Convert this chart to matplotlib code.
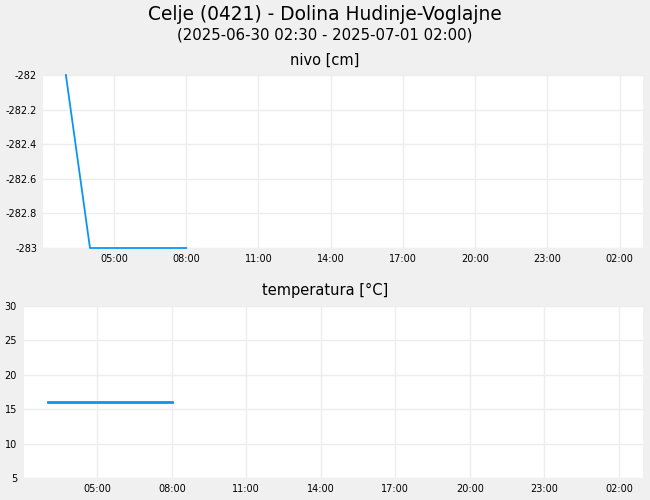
import numpy as np
import pandas as pd
import matplotlib
matplotlib.use("Agg")
import matplotlib.pyplot as plt
import matplotlib.dates as mdates
from matplotlib.ticker import FuncFormatter

# podatki
nivo_cas = pd.to_datetime(["2025-06-30 03:00", "2025-06-30 04:00", "2025-06-30 05:00",
                           "2025-06-30 06:00", "2025-06-30 07:00", "2025-06-30 08:00"])
nivo_val = [-282.0, -283.0, -283.0, -283.0, -283.0, -283.0]

temp_cas = pd.to_datetime(["2025-06-30 03:00", "2025-06-30 04:00", "2025-06-30 05:00",
                           "2025-06-30 06:00", "2025-06-30 07:00", "2025-06-30 08:00"])
temp_val = [16.1, 16.1, 16.1, 16.1, 16.1, 16.1]

x_od = pd.Timestamp("2025-06-30 02:03")
x_do = pd.Timestamp("2025-07-01 02:58")

bg = '#f0f0f0'
modra = '#0a96f0'
mreza = '#ededed'

fig = plt.figure(figsize=(6.5, 5), dpi=100, facecolor=bg)
fig.text(0.5, 0.972, 'Celje (0421) - Dolina Hudinje-Voglajne', ha='center', va='center', fontsize=13.4)
fig.text(0.5, 0.930, '(2025-06-30 02:30 - 2025-07-01 02:00)', ha='center', va='center', fontsize=10.7)
fig.text(0.5, 0.880, 'nivo [cm]', ha='center', va='center', fontsize=10.5)
fig.text(0.5, 0.420, 'temperatura [°C]', ha='center', va='center', fontsize=10.5)

ax1 = fig.add_axes([0.0662, 0.504, 0.9228, 0.346])
ax2 = fig.add_axes([0.0369, 0.044, 0.9521, 0.344])


def oblika(ax):
    ax.set_facecolor('white')
    for s in ax.spines.values():
        s.set_visible(False)
    ax.grid(True, color=mreza, linewidth=1)
    ax.set_axisbelow(True)
    ax.tick_params(length=0, labelsize=7)
    ax.tick_params(axis='x', pad=4)
    ax.xaxis.set_major_locator(mdates.HourLocator(byhour=range(2, 24, 3)))
    ax.xaxis.set_major_formatter(mdates.DateFormatter('%H:%M'))
    ax.set_xlim(x_od, x_do)


oblika(ax1)
ax1.plot(nivo_cas, nivo_val, color=modra, linewidth=1.3, clip_on=False)
ax1.set_ylim(-283, -282)
ax1.set_yticks(np.arange(-283, -281.99, 0.2))
ax1.yaxis.set_major_formatter(FuncFormatter(lambda v, p: f'{v:g}'))
ax1.tick_params(axis='y', pad=4.3)

oblika(ax2)
ax2.plot(temp_cas, temp_val, color=modra, linewidth=2)
ax2.set_ylim(5, 30)
ax2.set_yticks([5, 10, 15, 20, 25, 30])
ax2.tick_params(axis='y', pad=5)

fig.savefig('out.png', dpi=100, facecolor=bg)
